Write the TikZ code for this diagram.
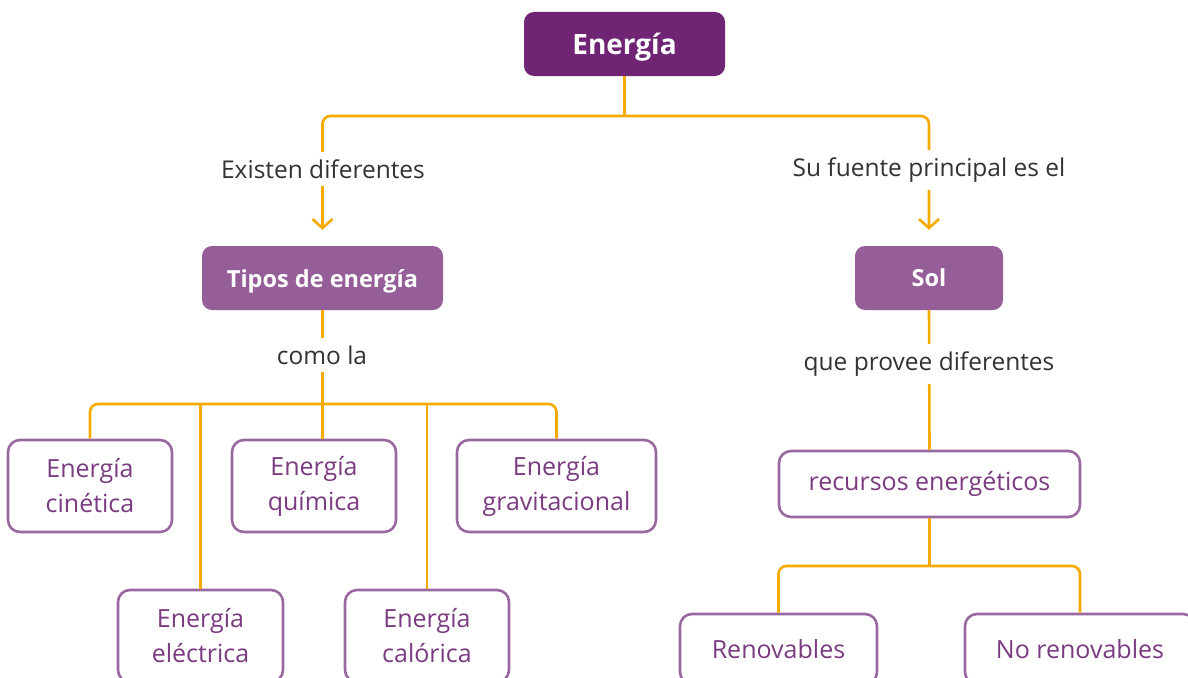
\documentclass[tikz,border=0pt]{standalone}
\usepackage{fontspec}
\setmainfont{Open Sans}
\usetikzlibrary{arrows.meta,positioning}
\definecolor{deep}{HTML}{6F2474}
\definecolor{mid}{HTML}{955E98}
\definecolor{edge}{HTML}{9A68A0}
\definecolor{ink}{HTML}{7A3B80}
\definecolor{gold}{HTML}{F5AA00}
\definecolor{txt}{HTML}{333333}
\tikzset{
  >={Straight Barb[length=9pt,width=20pt]},
  top/.style={fill=deep,rounded corners=10pt,minimum height=64pt,text depth=0pt,text=white,font=\fontsize{28}{32}\selectfont\bfseries},
  sub/.style={top,fill=mid,font=\fontsize{23.5}{28}\selectfont\bfseries},
  leaf/.style={draw=edge,line width=2.6pt,rounded corners=12pt,fill=white,text=ink,font=\fontsize{25}{35}\selectfont,align=center,minimum height=92pt},
  lab/.style={text=txt,font=\fontsize{24.5}{28}\selectfont,fill=white,inner xsep=4pt,inner ysep=8pt},
  conn/.style={draw=gold,line width=2.6pt},
}
\begin{document}
\begin{tikzpicture}[x=1pt,y=-1pt]
\clip (0,0) rectangle (1188,677);
% main nodes
\node[top,minimum width=201pt] (energia) at (624.5,44) {Energía};
\node[sub,minimum width=241pt] (tipos) at (322.5,278) {Tipos de energía};
\node[sub,minimum width=148pt] (sol) at (929,278) {Sol};
% kinds of energy
\node[leaf,minimum width=164pt] (cin) at (90,486) {Energía\\cinética};
\node[leaf,minimum width=164pt] (qui) at (314,486) {Energía\\química};
\node[leaf,minimum width=199pt] (grav) at (556.5,486) {Energía\\gravitacional};
\node[leaf,minimum width=165pt] (ele) at (200.5,636) {Energía\\eléctrica};
\node[leaf,minimum width=164pt] (cal) at (427,636) {Energía\\calórica};
% resources
\node[leaf,minimum width=301pt,minimum height=66pt] (rec) at (929.5,484) {recursos energéticos};
\node[leaf,minimum width=197pt,minimum height=70pt] (ren) at (778.5,649) {Renovables};
\node[leaf,minimum width=230pt,minimum height=70pt] (noren) at (1080,649) {No renovables};
\coordinate (busT) at (624.5,116);
\coordinate (busL) at (322,404);
\coordinate (busR) at (929.5,566);
% connectors
\draw[conn] (energia.south) -- (busT);
\draw[conn,->,rounded corners=8pt,shorten >=16pt] (busT) -| (tipos.north);
\draw[conn,->,rounded corners=8pt,shorten >=16pt] (busT) -| (sol.north);
\draw[conn] (tipos.south) -- (tipos.south |- qui.north);
\draw[conn,rounded corners=8pt] (cin.north) -- (cin.north |- busL) -| (grav.north);
\draw[conn] (ele.north) -- (ele.north |- busL);
\draw[conn] (cal.north) -- (cal.north |- busL);
\draw[conn] (sol.south) -- (rec.north);
\draw[conn] (rec.south) -- (busR);
\draw[conn,rounded corners=8pt] (ren.north) -- (ren.north |- busR) -| (noren.north);
% link labels
\node[lab] (existen) at (323,169) {Existen diferentes};
\node[lab] (fuente) at (929,170) {Su fuente principal es el};
\node[lab] (comola) at (322,355) {como la};
\node[lab] (provee) at (929,364) {que provee diferentes};
\end{tikzpicture}
\end{document}
